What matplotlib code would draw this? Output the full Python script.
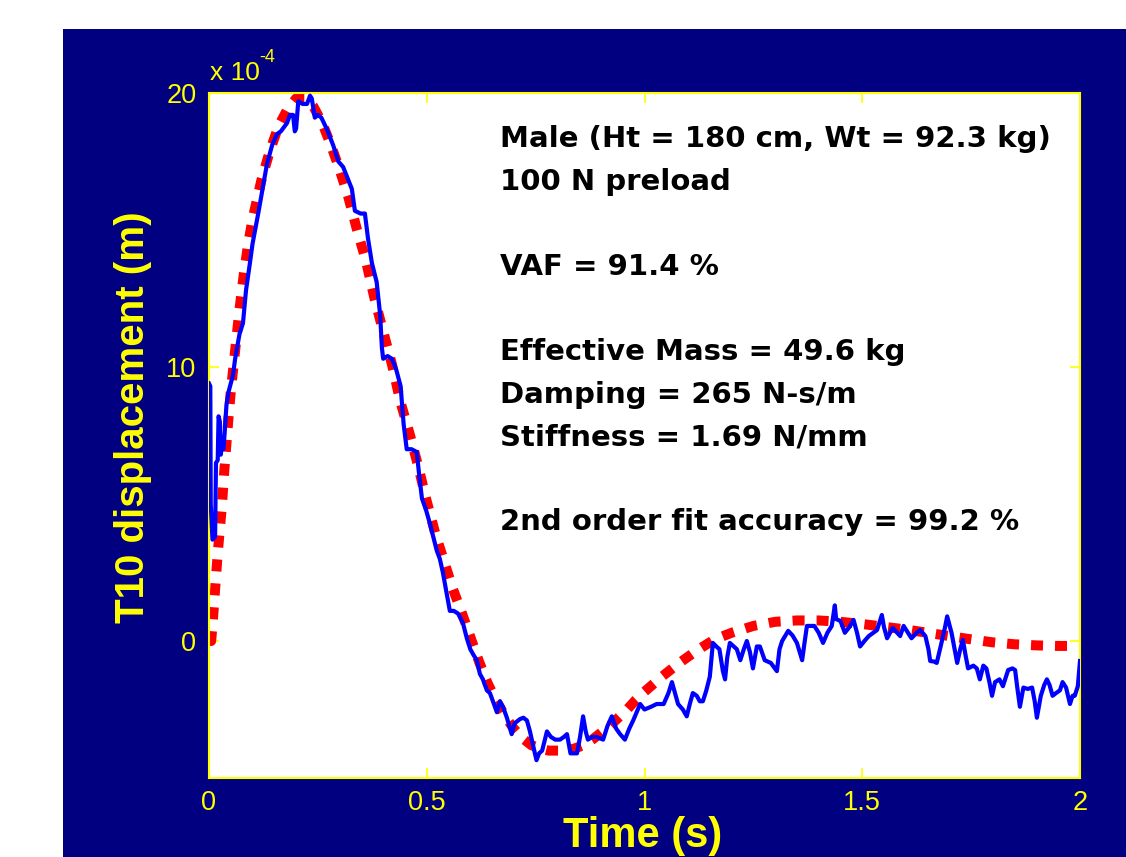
import matplotlib
matplotlib.use('Agg')
import matplotlib.pyplot as plt
from matplotlib.patches import Rectangle

plt.rcParams['font.family'] = ['Liberation Sans', 'DejaVu Sans']

# second order fit (units of 1e-4 m)
fit_t = [0, 0.005, 0.01, 0.015, 0.02, 0.025, 0.03, 0.035, 0.04, 0.045, 0.05,
         0.06, 0.07, 0.08, 0.09, 0.10, 0.12, 0.14, 0.16, 0.18, 0.20, 0.22,
         0.24, 0.26, 0.28, 0.30, 0.32, 0.34, 0.36, 0.38, 0.40, 0.42, 0.44,
         0.46, 0.48, 0.50, 0.52, 0.54, 0.56, 0.58, 0.60, 0.62, 0.64, 0.66,
         0.68, 0.70, 0.72, 0.74, 0.76, 0.78, 0.80, 0.82, 0.84, 0.86, 0.88,
         0.90, 0.92, 0.94, 0.96, 0.98, 1.00, 1.04, 1.08, 1.12, 1.16, 1.20,
         1.25, 1.30, 1.35, 1.40, 1.45, 1.50, 1.55, 1.60, 1.65, 1.70, 1.75,
         1.80, 1.85, 1.90, 1.95, 2.00]
fit_v = [0, 0.0, 1.0, 2.1, 3.2, 4.1, 5.0, 6.2, 7.2, 8.2, 9.1,
         10.6, 12.1, 13.4, 14.5, 15.4, 16.8, 17.9, 18.8, 19.4, 19.8, 19.8,
         19.5, 18.9, 18.1, 17.2, 16.2, 15.0, 13.9, 12.5, 11.3, 10.1, 8.7,
         7.6, 6.4, 5.1, 3.9, 2.9, 1.9, 1.05, 0.15, -0.75, -1.55, -2.2,
         -2.75, -3.2, -3.55, -3.8, -3.92, -4.0, -4.0, -4.0, -3.92, -3.8, -3.6,
         -3.35, -3.1, -2.8, -2.5, -2.15, -1.85, -1.3, -0.8, -0.35, 0.05, 0.3,
         0.55, 0.7, 0.75, 0.75, 0.7, 0.62, 0.52, 0.42, 0.3, 0.18, 0.06,
         -0.05, -0.12, -0.16, -0.18, -0.18]

# measured T10 displacement (units of 1e-4 m)
disp_t = [0.0, 0.003, 0.004, 0.008, 0.014, 0.016, 0.02, 0.022, 0.025, 0.027,
          0.03, 0.033, 0.036, 0.04, 0.045, 0.055, 0.06, 0.07, 0.078, 0.085,
          0.094, 0.1, 0.113, 0.122, 0.133, 0.145, 0.156, 0.165, 0.179, 0.186,
          0.193, 0.197, 0.2, 0.205, 0.215, 0.225, 0.232, 0.236, 0.243, 0.25,
          0.258, 0.27, 0.285, 0.297, 0.308, 0.318, 0.328, 0.335, 0.348, 0.358,
          0.365, 0.374, 0.385, 0.393, 0.397, 0.40, 0.41, 0.42, 0.43, 0.44,
          0.447, 0.454, 0.465, 0.477, 0.483, 0.489, 0.498, 0.507, 0.515, 0.523,
          0.53, 0.537, 0.545, 0.553, 0.562, 0.572, 0.583, 0.592, 0.60, 0.607,
          0.615, 0.622, 0.629, 0.638, 0.645, 0.652, 0.661, 0.668, 0.675, 0.684,
          0.695, 0.702, 0.714, 0.722, 0.73, 0.737, 0.744, 0.752, 0.758, 0.765,
          0.776, 0.785, 0.795, 0.806, 0.815, 0.822, 0.83, 0.845, 0.852, 0.859,
          0.865, 0.87, 0.88, 0.89, 0.905, 0.915, 0.925, 0.935, 0.944, 0.955,
          0.965, 0.974, 0.982, 0.99, 1.0, 1.015, 1.028, 1.044, 1.055, 1.063,
          1.07, 1.077, 1.088, 1.097, 1.104, 1.111, 1.12, 1.127, 1.134, 1.142,
          1.15, 1.157, 1.165, 1.172, 1.18, 1.185, 1.19, 1.196, 1.205, 1.212,
          1.22, 1.228, 1.235, 1.242, 1.249, 1.258, 1.265, 1.276, 1.29, 1.304,
          1.31, 1.316, 1.33, 1.34, 1.35, 1.362, 1.368, 1.373, 1.39, 1.40,
          1.41, 1.42, 1.43, 1.437, 1.44, 1.45, 1.46, 1.47, 1.48, 1.488,
          1.495, 1.505, 1.515, 1.534, 1.545, 1.55, 1.557, 1.57, 1.58, 1.587,
          1.595, 1.605, 1.613, 1.625, 1.633, 1.645, 1.652, 1.656, 1.665, 1.671,
          1.68, 1.69, 1.695, 1.705, 1.712, 1.718, 1.725, 1.731, 1.737, 1.743,
          1.755, 1.763, 1.77, 1.778, 1.785, 1.792, 1.798, 1.805, 1.815, 1.823,
          1.83, 1.835, 1.845, 1.851, 1.856, 1.862, 1.87, 1.88, 1.89, 1.896,
          1.901, 1.91, 1.918, 1.924, 1.93, 1.937, 1.945, 1.954, 1.96, 1.968,
          1.977, 1.983, 1.988, 1.995, 2.0]
disp_v = [9.4, 9.3, 5.0, 3.7, 3.8, 6.5, 6.6, 8.2, 8.0, 6.8,
          7.2, 7.0, 7.6, 8.6, 9.1, 9.7, 10.3, 11.2, 11.6, 12.8,
          13.8, 14.5, 15.6, 16.4, 17.4, 18.1, 18.5, 18.6, 18.9, 19.2,
          19.2, 18.6, 18.7, 19.7, 19.6, 19.6, 19.9, 19.8, 19.1, 19.2,
          19.1, 18.7, 18.1, 17.5, 17.3, 16.9, 16.5, 15.7, 15.6, 15.6,
          14.7, 13.8, 13.1, 11.9, 10.7, 10.3, 10.4, 10.3, 9.9, 9.3,
          7.9, 7.0, 7.0, 6.9, 6.0, 5.2, 4.8, 4.3, 3.8, 3.3,
          3.0, 2.5, 1.8, 1.1, 1.1, 1.0, 0.66, 0.1, -0.3, -0.5,
          -0.7, -1.2, -1.4, -1.8, -1.9, -2.2, -2.6, -2.2, -2.4, -2.8,
          -3.4, -3.0, -2.85, -2.8, -2.9, -3.3, -3.8, -4.35, -4.1, -4.0,
          -3.3, -3.5, -3.6, -3.6, -3.5, -3.4, -4.1, -4.1, -3.5, -2.75,
          -3.3, -3.6, -3.5, -3.5, -3.6, -3.1, -2.75, -3.2, -3.4, -3.6,
          -3.2, -2.9, -2.6, -2.3, -2.5, -2.4, -2.3, -2.3, -1.9, -1.5,
          -1.9, -2.3, -2.5, -2.75, -2.3, -1.9, -2.0, -2.2, -2.2, -1.8,
          -1.3, -0.07, -0.2, -0.3, -1.1, -1.4, -0.6, -0.07, -0.2, -0.3,
          -0.7, -0.3, 0.0, -0.4, -1.0, -0.2, -0.2, -0.7, -0.8, -1.1,
          -0.3, 0.0, 0.37, 0.2, -0.07, -0.7, 0.0, 0.55, 0.55, 0.3,
          -0.07, 0.3, 0.55, 1.3, 0.8, 0.73, 0.3, 0.5, 0.77, 0.3,
          -0.2, 0.0, 0.18, 0.4, 0.95, 0.5, 0.1, 0.48, 0.3, 0.18,
          0.55, 0.3, 0.1, 0.3, 0.4, 0.18, -0.3, -0.73, -0.75, -0.8,
          -0.2, 0.5, 0.9, 0.3, -0.3, -0.8, -0.3, 0.04, -0.5, -1.0,
          -0.9, -1.0, -1.4, -0.9, -1.0, -1.5, -2.0, -1.5, -1.4, -1.65,
          -1.3, -1.06, -1.0, -1.06, -1.7, -2.4, -1.7, -1.75, -1.7, -2.2,
          -2.8, -2.0, -1.6, -1.4, -1.6, -2.0, -1.9, -1.8, -1.5, -1.7,
          -2.3, -2.0, -2.0, -1.65, -0.73]

x_ticks = [0, 0.5, 1, 1.5, 2]
x_tick_labels = ['0', '0.5', '1', '1.5', '2']
y_ticks = [0, 10, 20]
y_tick_labels = ['0', '10', '20']

info_lines = ['Male (Ht = 180 cm, Wt = 92.3 kg)', '100 N preload', '',
              'VAF = 91.4 %', '',
              'Effective Mass = 49.6 kg', 'Damping = 265 N-s/m',
              'Stiffness = 1.69 N/mm', '',
              '2nd order fit accuracy = 99.2 %']

W, H = 1126, 857
navy = '#000080'
yellow = '#ffff00'

fig = plt.figure(figsize=(W / 100, H / 100), dpi=100, facecolor='white')
fig.patches.append(Rectangle((63 / W, 0), 1 - 63 / W, 1 - 29 / H,
                             transform=fig.transFigure, facecolor=navy,
                             edgecolor='none', zorder=-5))

ax = fig.add_axes([209 / W, 1 - 778 / H, (1080 - 209) / W, (778 - 93) / H])
ax.set_zorder(2)
ax.set_facecolor('white')

ax.plot(fit_t, fit_v, color='#ff0000', lw=7.2, linestyle=(0, (1.2, 1.2)),
        dash_capstyle='butt', zorder=2)
ax.plot(disp_t, disp_v, color='#0000ff', lw=3.0, zorder=3)

ax.set_xlim(0, 2)
ax.set_ylim(-5, 20)
ax.set_xticks(x_ticks)
ax.set_xticklabels(x_tick_labels)
ax.set_yticks(y_ticks)
ax.set_yticklabels(y_tick_labels)
ax.tick_params(direction='in', length=7, width=1.2, colors=yellow,
               top=True, right=True, labelsize=19.5, pad=9)
for sp in ax.spines.values():
    sp.set_color(yellow)
    sp.set_linewidth(1.5)

# exponent label, MATLAB style
fig.text(210 / W, 1 - 80 / H, 'x 10', color=yellow, fontsize=19, va='baseline')
fig.text(259 / W, 1 - 62 / H, '-4', color=yellow, fontsize=13, va='baseline')

# axis labels
fig.text(133 / W, 1 - 417 / H, 'T10 displacement (m)', color=yellow,
         fontsize=29, fontweight='bold', rotation=90, ha='center', va='center')
fig.text(643 / W, 1 - 847 / H, 'Time (s)', color=yellow, fontsize=30,
         fontweight='bold', ha='center', va='baseline')

# parameter block
for i, line in enumerate(info_lines):
    if line:
        fig.text(500 / W, 1 - (147 + 42.6 * i) / H, line, color='black',
                 fontsize=21, fontweight='bold', va='baseline',
                 family='DejaVu Sans')

fig.savefig('out.png', dpi=100, facecolor=fig.get_facecolor())
